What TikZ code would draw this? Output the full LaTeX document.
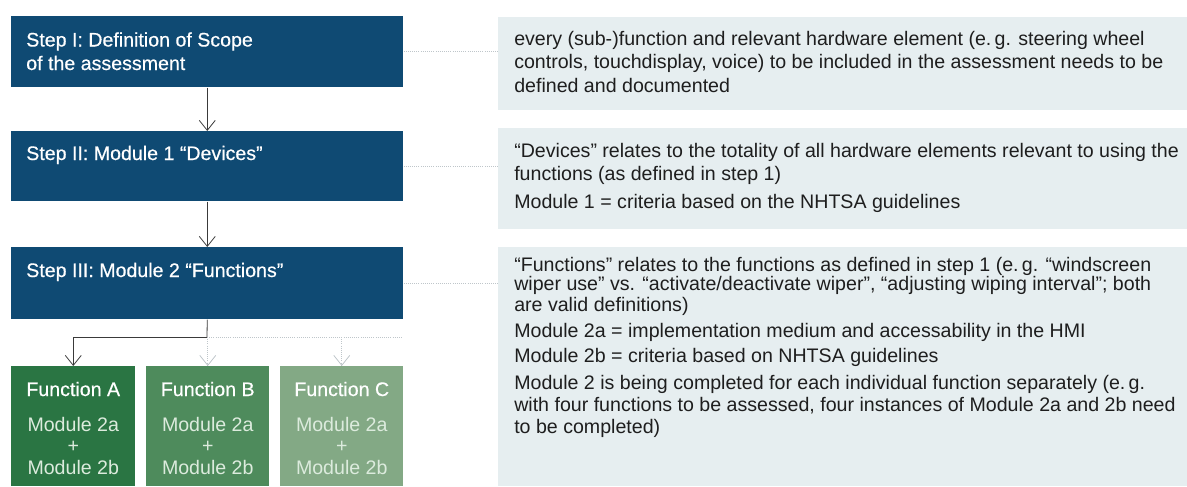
\documentclass[tikz,border=0pt]{standalone}
\usepackage{fontspec}
\setmainfont{Liberation Sans}
\newfontfamily\medfont[FakeBold=0.5]{Liberation Sans}
\usetikzlibrary{arrows.meta}
\definecolor{stepblue}{HTML}{0F4A73}
\definecolor{panelbg}{HTML}{E6EEF0}
\definecolor{fnA}{HTML}{2A7543}
\definecolor{fnB}{HTML}{4E8B5C}
\definecolor{fnC}{HTML}{83A985}
\definecolor{modtxt}{HTML}{DCEBDD}
\definecolor{dotgray}{HTML}{BFC6CA}
\definecolor{linegray}{HTML}{3A3A3A}
\definecolor{bodytxt}{HTML}{1E1E1E}
\tikzset{
  boxbase/.style={draw=none, inner sep=0pt, anchor=north west},
  stepbox/.style={boxbase, fill=stepblue, minimum width=294pt},
  fnbox/.style={boxbase, minimum height=90pt},
  panelbox/.style={boxbase, fill=panelbg, minimum width=517.5pt},
  ltitle/.style={anchor=base west, inner sep=0pt, text=white, font=\medfont\fontsize{14.7pt}{17pt}\selectfont},
  ftitle/.style={anchor=base, inner sep=0pt, text=white, font=\medfont\fontsize{14.7pt}{17pt}\selectfont},
  fmod/.style={anchor=base, inner sep=0pt, text=modtxt, font=\fontsize{14.7pt}{17pt}\selectfont},
  rtext/.style={anchor=base west, inner sep=0pt, text=bodytxt, font=\fontsize{14.7pt}{17pt}\selectfont},
  conn/.style={draw=linegray, line width=0.6pt, -{Straight Barb[length=7.5pt,width=12pt]}},
  solidline/.style={draw=linegray, line width=0.6pt},
  dotline/.style={draw=dotgray, line width=0.6pt, dash pattern=on 0.7pt off 0.9pt},
  dotconn/.style={dotline, -{Straight Barb[length=7.5pt,width=12pt]}},
}
\begin{document}
\begin{tikzpicture}[x=0.75pt, y=-0.75pt]
\useasboundingbox (0,0) rectangle (1187,486);
% left step boxes
\node[stepbox, minimum height=53.25pt] (s1) at (11,16) {};
\node[stepbox, minimum height=52.5pt] (s2) at (11,131) {};
\node[stepbox, minimum height=54pt] (s3) at (11,247) {};
% function boxes
\node[fnbox, fill=fnA, minimum width=93pt] (fA) at (11,366) {};
\node[fnbox, fill=fnB, minimum width=92.25pt] (fB) at (146,366) {};
\node[fnbox, fill=fnC, minimum width=92.25pt] (fC) at (280,366) {};
% right panels
\node[panelbox, minimum height=69.75pt] (p1) at (498,17) {};
\node[panelbox, minimum height=75.75pt] (p2) at (498,128) {};
\node[panelbox, minimum height=179.25pt] (p3) at (498,247) {};
% dotted links step -> panel
\draw[dotline] (s1.east) -- (s1.east -| p1.west);
\draw[dotline] (s2.east) -- (s2.east -| p2.west);
\draw[dotline] (s3.east) -- (s3.east -| p3.west);
% flow connectors
\draw[conn] (s1.south) -- (s2.north);
\draw[conn] (s2.south) -- (s3.north);
\coordinate (br) at (207,337);
\coordinate (brend) at (403,337);
\draw[solidline] (s3.south) -- (br);
\draw[conn] (br) -| (fA.north);
\draw[dotline] (br) -- (brend);
\draw[dotconn] (fB.north |- br) -- (fB.north);
\draw[dotconn] (fC.north |- br) -- (fC.north);
% step texts
\node[ltitle] (t1a) at (26,46.5) {Step I: Definition of Scope};
\node[ltitle] (t1b) at (26,70) {of the assessment};
\node[ltitle] (t2) at (26,160) {Step II: Module 1 “Devices”};
\node[ltitle] (t3) at (26,277) {Step III: Module 2 “Functions”};
% function texts
\foreach \f/\l in {fA/A, fB/B, fC/C}{
  \node[ftitle] (\f t) at (\f.north |- 0,396) {Function \l};
  \node[fmod] (\f m1) at (\f.north |- 0,431) {Module 2a};
  \node[fmod] (\f p) at (\f.north |- 0,452) {+};
  \node[fmod] (\f m2) at (\f.north |- 0,474) {Module 2b};
}
% panel 1
\node[rtext] (r1a) at (514,45) {every (sub-)function and relevant hardware element (e.\,g. steering wheel};
\node[rtext] (r1b) at (514,68.5) {controls, touchdisplay, voice) to be included in the assessment needs to be};
\node[rtext] (r1c) at (514,92) {defined and documented};
% panel 2
\node[rtext] (r2a) at (514,157) {“Devices” relates to the totality of all hardware elements relevant to using the};
\node[rtext] (r2b) at (514,180) {functions (as defined in step 1)};
\node[rtext] (r2c) at (514,208) {Module 1 = criteria based on the NHTSA guidelines};
% panel 3
\node[rtext] (r3a) at (514,271) {“Functions” relates to the functions as defined in step 1 (e.\,g. “windscreen};
\node[rtext] (r3b) at (514,290) {wiper use” vs. “activate/deactivate wiper”, “adjusting wiping interval”; both};
\node[rtext] (r3c) at (514,311) {are valid definitions)};
\node[rtext] (r3d) at (514,337) {Module 2a = implementation medium and accessability in the HMI};
\node[rtext] (r3e) at (514,362) {Module 2b = criteria based on NHTSA guidelines};
\node[rtext] (r3f) at (514,389) {Module 2 is being completed for each individual function separately (e.\,g.};
\node[rtext] (r3g) at (514,411) {with four functions to be assessed, four instances of Module 2a and 2b need};
\node[rtext] (r3h) at (514,433) {to be completed)};
\end{tikzpicture}
\end{document}
